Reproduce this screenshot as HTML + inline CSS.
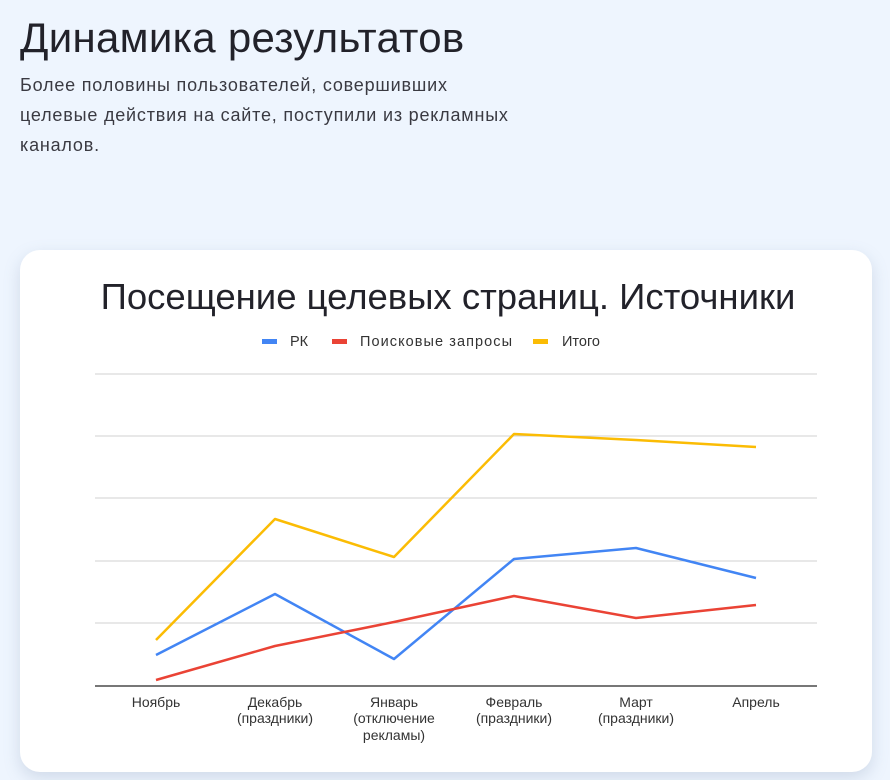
<!DOCTYPE html>
<html><head><meta charset="utf-8"><style>
body{margin:0;width:890px;height:780px;background:#eef5fe;font-family:"Liberation Sans",sans-serif;overflow:hidden;position:relative}
h1{position:absolute;left:20px;top:14px;margin:0;font-size:42px;font-weight:500;color:#22222a;letter-spacing:0.3px}
p{position:absolute;left:20px;top:70px;margin:0;width:700px;font-size:18px;letter-spacing:0.8px;line-height:30px;color:#3a3a42}
.card{position:absolute;left:20px;top:250px;width:852px;height:522px;background:#fff;border-radius:20px;box-shadow:0 6px 16px rgba(120,140,170,0.25)}
</style></head><body>
<h1>Динамика результатов</h1>
<p>Более половины пользователей, совершивших<br>целевые действия на сайте, поступили из рекламных<br>каналов.</p>
<div class="card"></div>
<svg width="890" height="780" style="position:absolute;left:0;top:0">
<text x="448" y="309" text-anchor="middle" font-size="36.5" fill="#22222a" font-family="Liberation Sans, sans-serif">Посещение целевых страниц. Источники</text>
<g font-size="14.5" fill="#333" font-family="Liberation Sans, sans-serif">
<rect x="262" y="339" width="15" height="5" fill="#4285f4"/><text x="290" y="346">РК</text>
<rect x="332" y="339" width="15" height="5" fill="#ea4335"/><text x="360" y="346" textLength="152">Поисковые запросы</text>
<rect x="533" y="339" width="15" height="5" fill="#fbbc04"/><text x="562" y="346">Итого</text>
</g>
<g stroke="#d0d0d0" stroke-width="1">
<line x1="95" x2="817" y1="374" y2="374"/><line x1="95" x2="817" y1="436" y2="436"/><line x1="95" x2="817" y1="498" y2="498"/><line x1="95" x2="817" y1="561" y2="561"/><line x1="95" x2="817" y1="623" y2="623"/>
</g>
<line x1="95" x2="817" y1="686" y2="686" stroke="#777" stroke-width="2"/>
<g fill="none" stroke-width="2.5" stroke-linejoin="round">
<polyline stroke="#fbbc04" points="156,640 275,519 394,557 514,434 636,440 756,447"/>
<polyline stroke="#4285f4" points="156,655 275,594 394,659 514,559 636,548 756,578"/>
<polyline stroke="#ea4335" points="156,680 275,646 394,622 514,596 636,618 756,605"/>
</g>
<g font-size="14" fill="#333" text-anchor="middle" font-family="Liberation Sans, sans-serif">
<text x="156" y="707">Ноябрь</text>
<text x="275" y="707">Декабрь</text><text x="275" y="723">(праздники)</text>
<text x="394" y="707">Январь</text><text x="394" y="723">(отключение</text><text x="394" y="740">рекламы)</text>
<text x="514" y="707">Февраль</text><text x="514" y="723">(праздники)</text>
<text x="636" y="707">Март</text><text x="636" y="723">(праздники)</text>
<text x="756" y="707">Апрель</text>
</g>
</svg>
</body></html>
